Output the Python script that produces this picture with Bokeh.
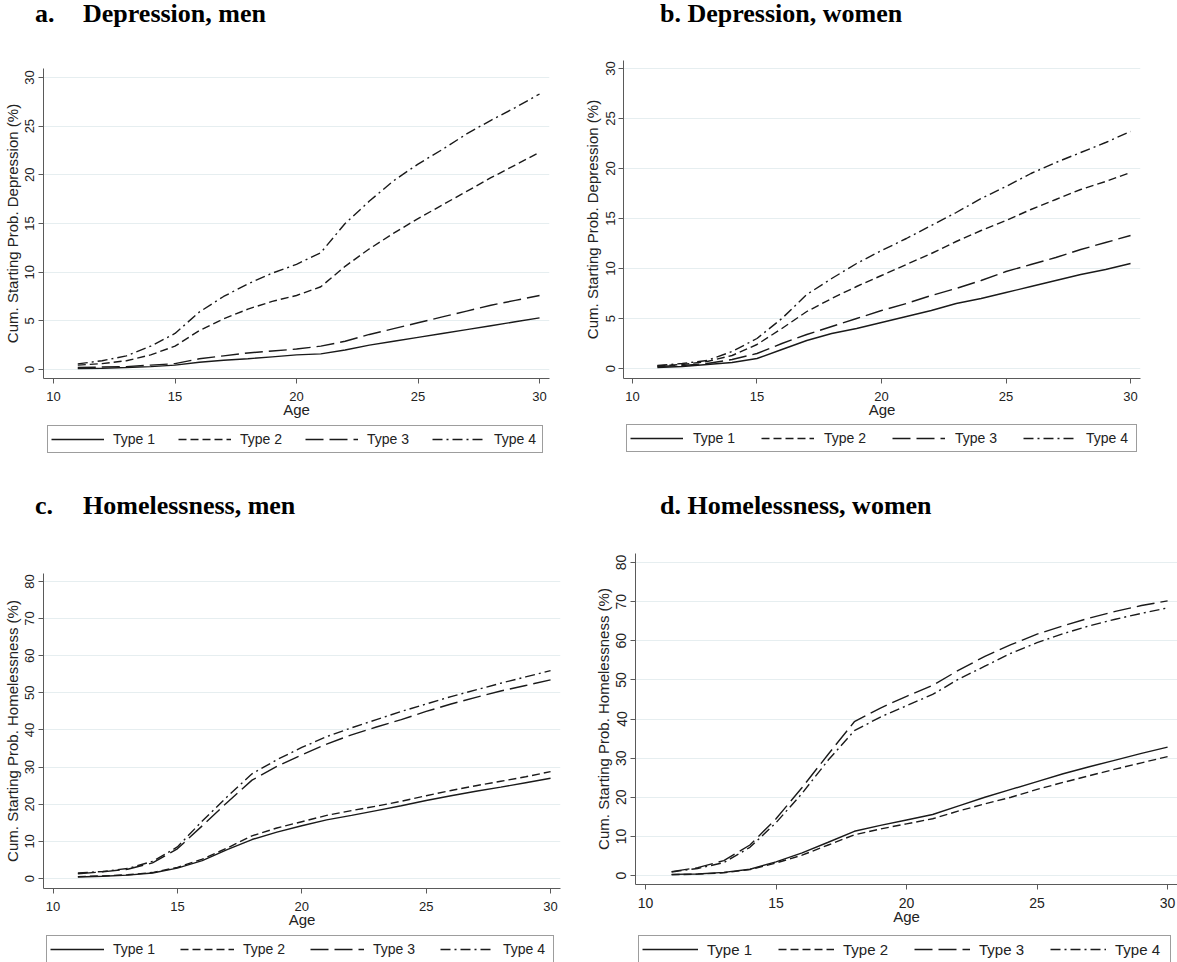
from bokeh.plotting import figure
from bokeh.models import Range1d, FixedTicker, Legend, LegendItem, Div
from bokeh.layouts import column, row
from bokeh.embed import file_html
from bokeh.resources import INLINE

# ---------------- data ----------------
ages = [11, 12, 13, 14, 15, 16, 17, 18, 19, 20, 21, 22, 23, 24, 25, 26, 27, 28, 29, 30]
type_labels = ["Type 1", "Type 2", "Type 3", "Type 4"]

dep_men_t1 = [0.1, 0.12, 0.2, 0.3, 0.45, 0.75, 0.95, 1.1, 1.3, 1.5, 1.6, 2.0, 2.5, 2.9, 3.3, 3.7, 4.1, 4.5, 4.9, 5.3]
dep_men_t2 = [0.45, 0.6, 0.9, 1.5, 2.4, 4.0, 5.2, 6.2, 7.0, 7.6, 8.5, 10.6, 12.4, 14.0, 15.5, 16.9, 18.3, 19.7, 21.0, 22.3]
dep_men_t3 = [0.2, 0.25, 0.3, 0.45, 0.6, 1.1, 1.4, 1.7, 1.9, 2.1, 2.4, 2.9, 3.6, 4.2, 4.8, 5.4, 6.0, 6.6, 7.1, 7.6]
dep_men_t4 = [0.58, 0.9, 1.4, 2.4, 3.7, 5.9, 7.5, 8.8, 9.9, 10.8, 12.0, 15.0, 17.3, 19.4, 21.1, 22.6, 24.2, 25.6, 26.9, 28.3]

dep_women_t1 = [0.1, 0.2, 0.4, 0.6, 1.0, 1.9, 2.8, 3.5, 4.0, 4.6, 5.2, 5.8, 6.5, 7.0, 7.6, 8.2, 8.8, 9.4, 9.9, 10.5]
dep_women_t2 = [0.25, 0.4, 0.7, 1.3, 2.4, 4.0, 5.7, 7.0, 8.2, 9.3, 10.4, 11.5, 12.7, 13.8, 14.8, 15.9, 16.9, 17.9, 18.7, 19.6]
dep_women_t3 = [0.2, 0.3, 0.5, 0.9, 1.5, 2.5, 3.4, 4.2, 5.0, 5.8, 6.5, 7.3, 8.0, 8.8, 9.7, 10.4, 11.1, 11.9, 12.6, 13.3]
dep_women_t4 = [0.3, 0.5, 0.8, 1.7, 3.0, 5.0, 7.4, 9.0, 10.5, 11.8, 13.0, 14.3, 15.6, 17.0, 18.2, 19.5, 20.6, 21.6, 22.6, 23.7]

home_men_t1 = [0.4, 0.6, 0.9, 1.5, 2.8, 4.8, 7.8, 10.5, 12.5, 14.2, 15.8, 17.0, 18.3, 19.6, 21.0, 22.3, 23.5, 24.6, 25.8, 27.0]
home_men_t2 = [0.5, 0.7, 1.0, 1.6, 3.0, 5.2, 8.2, 11.5, 13.6, 15.3, 17.0, 18.3, 19.5, 20.8, 22.3, 23.7, 25.0, 26.2, 27.4, 28.8]
home_men_t3 = [1.3, 1.8, 2.5, 4.2, 8.0, 14.2, 20.5, 26.5, 30.2, 33.3, 36.2, 38.7, 40.8, 42.8, 45.0, 47.0, 48.8, 50.5, 52.0, 53.5]
home_men_t4 = [1.5, 1.9, 2.7, 4.6, 8.5, 15.5, 22.0, 28.2, 32.0, 35.3, 38.2, 40.6, 42.8, 45.0, 47.0, 49.0, 50.8, 52.6, 54.3, 56.0]

home_women_t1 = [0.3, 0.4, 0.8, 1.6, 3.5, 5.8, 8.5, 11.3, 12.8, 14.2, 15.6, 17.8, 20.0, 22.0, 24.0, 26.0, 27.8, 29.5, 31.2, 32.8]
home_women_t2 = [0.2, 0.35, 0.7, 1.5, 3.2, 5.2, 7.8, 10.4, 11.9, 13.2, 14.5, 16.5, 18.3, 20.0, 22.0, 23.8, 25.5, 27.2, 28.8, 30.4]
home_women_t3 = [1.0, 2.0, 3.8, 7.8, 14.5, 22.5, 31.0, 39.3, 42.8, 45.8, 48.6, 52.5, 56.0, 59.0, 61.7, 63.8, 65.8, 67.5, 69.0, 70.2]
home_women_t4 = [0.9, 1.8, 3.3, 7.2, 13.5, 21.0, 29.5, 37.0, 40.5, 43.4, 46.3, 50.2, 53.5, 56.8, 59.5, 61.8, 63.8, 65.5, 67.0, 68.4]

x_ticks = [10, 15, 20, 25, 30]
dep_ticks = [0, 5, 10, 15, 20, 25, 30]
home_ticks = [0, 10, 20, 30, 40, 50, 60, 70, 80]

# ---------------- styles ----------------
DASHES = ["solid", "8 4", "18 6", "10 4 2 4"]
LINE_COLOR = "#1a1a1a"
AXIS_COLOR = "#5a5a5a"
GRID_COLOR = "#e6eef0"
SANS = "Liberation Sans"
SERIF = "Liberation Serif"


def title_div(letter, text, W, pad_left, letter_w, pad_top):
    if letter_w:
        inner = ('<span style="display:inline-block;width:%dpx">%s</span>%s'
                 % (letter_w, letter, text))
    else:
        inner = "%s %s" % (letter, text)
    html = ('<div style="font-family:\'Liberation Serif\',serif;font-size:26px;'
            'font-weight:bold;line-height:26px;color:#000;white-space:nowrap;'
            'padding-left:%dpx;padding-top:%dpx">%s</div>' % (pad_left, pad_top, inner))
    return Div(text=html, width=W, height=40, margin=0)


def make_plot(ylabel, series, yticks, W, H, borders, xr, yr, tick_fs="13px", lab_fs="15px"):
    left, right, top, bottom = borders
    p = figure(width=W, height=H, output_backend="svg", toolbar_location=None,
               x_range=Range1d(*xr), y_range=Range1d(*yr),
               min_border_left=left, min_border_right=right,
               min_border_top=top, min_border_bottom=bottom,
               background_fill_color="white", border_fill_color="white")
    p.outline_line_color = None
    p.xgrid.grid_line_color = None
    p.ygrid.grid_line_color = GRID_COLOR
    p.ygrid.grid_line_width = 1.2

    for ax in (p.xaxis[0], p.yaxis[0]):
        ax.axis_line_color = AXIS_COLOR
        ax.major_tick_line_color = AXIS_COLOR
        ax.minor_tick_line_color = None
        ax.major_tick_out = 5
        ax.major_tick_in = 0
        ax.major_label_text_font = SANS
        ax.major_label_text_font_size = tick_fs
        ax.major_label_text_color = "#222222"
        ax.axis_label_text_font = SANS
        ax.axis_label_text_font_size = lab_fs
        ax.axis_label_text_font_style = "normal"
        ax.axis_label_text_color = "#222222"

    p.xaxis.ticker = FixedTicker(ticks=x_ticks)
    p.yaxis.ticker = FixedTicker(ticks=yticks)
    p.xaxis.axis_label = "Age"
    p.xaxis.major_label_standoff = 8
    p.xaxis.axis_label_standoff = -3
    p.yaxis.axis_label = ylabel
    p.yaxis.major_label_orientation = "vertical"
    p.yaxis.major_label_standoff = 4
    p.yaxis.axis_label_standoff = 2

    for ys, dash in zip(series, DASHES):
        p.line(ages, ys, line_color=LINE_COLOR, line_width=1.4, line_dash=dash)
    return p


def legend_fig(series, W, H, lx, ltop, pad, gw, st, lw, sp, fs):
    # the column layout aligns this strip's frame with the plot frame above it,
    # so lx is measured from the plot's left axis
    f = figure(width=W, height=H, output_backend="svg", toolbar_location=None,
               x_range=Range1d(0, 1), y_range=Range1d(0, 1),
               x_axis_type=None, y_axis_type=None,
               min_border_left=0, min_border_right=0, min_border_top=0, min_border_bottom=0,
               background_fill_color="white", border_fill_color="white")
    f.outline_line_color = None
    f.grid.visible = False
    items = []
    for lab, ys, dash in zip(type_labels, series, DASHES):
        # same series as the panel; they fall outside this strip's ranges, only the key shows
        r = f.line(ages, ys, line_color=LINE_COLOR, line_width=1.4, line_dash=dash)
        items.append(LegendItem(label=lab, renderers=[r]))
    lh = 2 * pad + 20
    legend = Legend(items=items, orientation="horizontal",
                    location=(lx, H - ltop - lh),
                    padding=pad, spacing=sp, margin=0, glyph_width=gw, glyph_height=20,
                    label_width=lw, label_height=20, label_standoff=st,
                    label_text_font=SANS, label_text_font_size=fs,
                    label_text_color="#222222",
                    border_line_color="#3c3c3c", border_line_width=1,
                    background_fill_color="white", background_fill_alpha=1.0)
    f.add_layout(legend, "center")
    return f


dep_men = [dep_men_t1, dep_men_t2, dep_men_t3, dep_men_t4]
dep_women = [dep_women_t1, dep_women_t2, dep_women_t3, dep_women_t4]
home_men = [home_men_t1, home_men_t2, home_men_t3, home_men_t4]
home_women = [home_women_t1, home_women_t2, home_women_t3, home_women_t4]

# panel a
ta = title_div("a.", "Depression, men", 580, 35, 48, 1)
pa = make_plot("Cum. Starting Prob. Depression (%)", dep_men, dep_ticks,
               580, 382, (42, 31, 28, 44), (9.589, 30.41), (-0.925, 30.92))
la = legend_fig(dep_men, 580, 66, 4, 5, 3, 53, 9, 45, 20, "14px")

# panel b
tb = title_div("b.", "Depression, women", 597, 80, 0, 1)
pb = make_plot("Cum. Starting Prob. Depression (%)", dep_women, dep_ticks,
               597, 382, (41, 37, 20, 44), (9.64, 30.4), (-1.0, 30.8))
lb = legend_fig(dep_women, 597, 66, 3, 4, 3, 53, 10, 47, 21, "14px")

# panel c
tc = title_div("c.", "Homelessness, men", 580, 35, 48, 5)
pc = make_plot("Cum. Starting Prob. Homelessness (%)", home_men, home_ticks,
               580, 404, (43, 20, 45, 44), (9.618, 30.40), (-2.69, 82.15))
lc = legend_fig(home_men, 580, 30, 3, 5, 3, 54, 9, 47, 20, "14px")

# panel d
td = title_div("d.", "Homelessness, women", 597, 80, 0, 5)
pdd = make_plot("Cum. Starting Prob. Homelessness (%)", home_women, home_ticks,
                597, 400, (55, 0, 25, 44), (9.617, 30.38), (-2.3, 82.3), tick_fs="14px")
ld = legend_fig(home_women, 597, 34, 3, 9, 3, 56, 9, 52, 19, "15px")

layout = column(row(column(ta, pa, la), column(tb, pb, lb)),
                row(column(tc, pc, lc), column(td, pdd, ld)))
open("out.html", "w").write(file_html(layout, INLINE))
